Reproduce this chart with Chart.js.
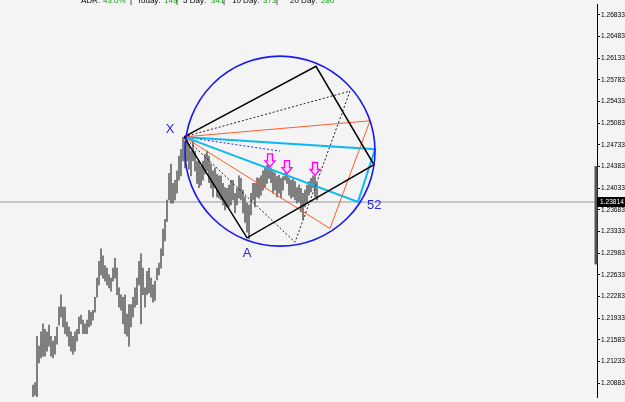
<!DOCTYPE html>
<html>
<head>
<meta charset="utf-8">
<script src="https://cdn.jsdelivr.net/npm/chart.js@4.4.0/dist/chart.umd.min.js"></script>
<style>
  html, body { margin: 0; padding: 0; background: #f4f4f4; }
  #wrap { width: 625px; height: 402px; }
</style>
</head>
<body>
<div id="wrap"><canvas id="chart" width="625" height="402"></canvas></div>
<script>
// price bars, one per period (high / low)
const highs = [
  1.2085, 1.2089, 1.2164, 1.2148, 1.2171, 1.2184, 1.2175, 1.2171, 1.2182, 1.2164,
  1.2156, 1.2164, 1.2179, 1.2211, 1.2231, 1.2211, 1.2211, 1.2187, 1.2179, 1.2171,
  1.2164, 1.2171, 1.2175, 1.2195, 1.2198, 1.2190, 1.2184, 1.2190, 1.2206, 1.2203,
  1.2206, 1.2227, 1.2258, 1.2285, 1.2305, 1.2294, 1.2278, 1.2274, 1.2263, 1.2258,
  1.2274, 1.2290, 1.2274, 1.2242, 1.2231, 1.2227, 1.2231, 1.2200, 1.2215, 1.2215,
  1.2227, 1.2242, 1.2258, 1.2285, 1.2297, 1.2274, 1.2242, 1.2269, 1.2274, 1.2258,
  1.2247, 1.2253, 1.2274, 1.2282, 1.2305, 1.2337, 1.2353, 1.2384, 1.2427, 1.2442,
  1.2411, 1.2416, 1.2431, 1.2455, 1.2466, 1.2485, 1.2479, 1.2479, 1.2474, 1.2463,
  1.2479, 1.2463, 1.2447, 1.2447, 1.2439, 1.2447, 1.2458, 1.2463, 1.2455, 1.2442,
  1.2431, 1.2436, 1.2426, 1.2423, 1.2423, 1.2411, 1.2404, 1.2403, 1.2408, 1.2416,
  1.2416, 1.2395, 1.2403, 1.2423, 1.2419, 1.2400, 1.2389, 1.2379, 1.2376, 1.2395,
  1.2411, 1.2411, 1.2420, 1.2419, 1.2423, 1.2431, 1.2436, 1.2440, 1.2439, 1.2436,
  1.2430, 1.2428, 1.2422, 1.2424, 1.2419, 1.2422, 1.2428, 1.2426, 1.2420, 1.2416,
  1.2418, 1.2414, 1.2404, 1.2408, 1.2403, 1.2395, 1.2400, 1.2408, 1.2414, 1.2419,
  1.2423, 1.2422, 1.2411
];
const lows = [
  1.2061, 1.2069, 1.2066, 1.2121, 1.2129, 1.2132, 1.2132, 1.2140, 1.2148, 1.2132,
  1.2129, 1.2135, 1.2151, 1.2182, 1.2195, 1.2179, 1.2168, 1.2164, 1.2148, 1.2140,
  1.2135, 1.2140, 1.2156, 1.2168, 1.2184, 1.2168, 1.2168, 1.2168, 1.2179, 1.2182,
  1.2190, 1.2203, 1.2227, 1.2247, 1.2263, 1.2258, 1.2253, 1.2247, 1.2242, 1.2237,
  1.2253, 1.2258, 1.2231, 1.2211, 1.2206, 1.2184, 1.2168, 1.2164, 1.2148, 1.2179,
  1.2195, 1.2211, 1.2215, 1.2247, 1.2184, 1.2231, 1.2211, 1.2231, 1.2234, 1.2227,
  1.2219, 1.2222, 1.2255, 1.2263, 1.2274, 1.2294, 1.2318, 1.2349, 1.2384, 1.2379,
  1.2379, 1.2384, 1.2395, 1.2416, 1.2423, 1.2447, 1.2436, 1.2447, 1.2434, 1.2423,
  1.2447, 1.2431, 1.2411, 1.2404, 1.2408, 1.2416, 1.2426, 1.2431, 1.2412, 1.2403,
  1.2389, 1.2404, 1.2389, 1.2387, 1.2384, 1.2376, 1.2368, 1.2373, 1.2373, 1.2376,
  1.2384, 1.2363, 1.2376, 1.2387, 1.2384, 1.2363, 1.2348, 1.2332, 1.2321, 1.2360,
  1.2384, 1.2373, 1.2389, 1.2387, 1.2392, 1.2400, 1.2404, 1.2411, 1.2419, 1.2412,
  1.2395, 1.2400, 1.2389, 1.2395, 1.2387, 1.2400, 1.2416, 1.2411, 1.2392, 1.2387,
  1.2389, 1.2384, 1.2379, 1.2381, 1.2365, 1.2353, 1.2373, 1.2379, 1.2392, 1.2397,
  1.2404, 1.2389, 1.2384
];

const tickValues = [1.26833, 1.26483, 1.26133, 1.25783, 1.25433, 1.25083, 1.24733, 1.24383,
  1.24033, 1.23683, 1.23333, 1.22983, 1.22633, 1.22283, 1.21933, 1.21583, 1.21233, 1.20883];
const currentPrice = 1.23814;

// drawing objects (bar index, price)
const quadX = [75.5, 141.5, 170.5, 107, 75.5];
const quadY = [1.2486, 1.2600, 1.2441, 1.2323, 1.2486];
const dotX = [75.5, 158.5, 131, 75.5];
const dotY = [1.2486, 1.2560, 1.2316, 1.2486];
const orangeX = [75.5, 168.5, 148.5, 75.5];
const orangeY = [1.2486, 1.2512, 1.2338, 1.2486];
const cyanX = [75.5, 171, 162.5, 75.5];
const cyanY = [1.2486, 1.2466, 1.2381, 1.2486];
const circleCenter = [123.5, 1.2463];
const circleRadiusBars = 47.5;
const arrowX = [118.5, 127, 141];
const arrowY = [1.2436, 1.2425, 1.2422];
const adrRange = [1.2439, 1.2280];

const pts = (xs, ys) => xs.map((x, i) => ({ x: x, y: ys[i] }));
const bars = highs.map((h, i) => ({ x: i, y: [lows[i], h] }));

function drawLine(color, width, dash, xs, ys) {
  return {
    type: 'line', data: pts(xs, ys), borderColor: color, borderWidth: width,
    borderDash: dash, pointRadius: 0, fill: false, tension: 0, order: 1
  };
}

const overlay = {
  id: 'overlay',
  beforeDatasetsDraw(chart) {
    const c = chart.ctx, ys = chart.scales.y, a = chart.chartArea;
    const py = Math.round(ys.getPixelForValue(currentPrice));
    c.save();
    c.strokeStyle = '#c4c4ca';
    c.lineWidth = 2;
    c.beginPath(); c.moveTo(a.left, py); c.lineTo(a.right, py); c.stroke();
    c.restore();
  },
  afterDatasetsDraw(chart) {
    const c = chart.ctx, xs = chart.scales.x, ys = chart.scales.y;
    c.save();
    // circle
    const cx = xs.getPixelForValue(circleCenter[0]);
    const cy = ys.getPixelForValue(circleCenter[1]);
    const r = xs.getPixelForValue(circleCenter[0] + circleRadiusBars) - cx;
    c.strokeStyle = '#1818f4';
    c.lineWidth = 1.6;
    c.beginPath(); c.arc(cx, cy, r, 0, Math.PI * 2); c.stroke();

    // arrows
    arrowX.forEach((v, i) => {
      const x = xs.getPixelForValue(v), y = ys.getPixelForValue(arrowY[i]) - 1;
      c.beginPath();
      c.moveTo(x, y);
      c.lineTo(x - 5, y - 6);
      c.lineTo(x - 2.5, y - 6);
      c.lineTo(x - 2.5, y - 13);
      c.lineTo(x + 2.5, y - 13);
      c.lineTo(x + 2.5, y - 6);
      c.lineTo(x + 5, y - 6);
      c.closePath();
      c.fillStyle = '#ffd6ff';
      c.fill();
      c.strokeStyle = '#ff00ff';
      c.lineWidth = 1.3;
      c.stroke();
    });

    // labels
    c.fillStyle = '#2424e8';
    c.font = '13px "Liberation Sans"';
    c.textBaseline = 'middle';
    c.textAlign = 'center';
    c.fillText('X', xs.getPixelForValue(quadX[0]) - 14, ys.getPixelForValue(quadY[0]) - 7);
    c.fillText('A', xs.getPixelForValue(quadX[3]), ys.getPixelForValue(quadY[3]) + 16);
    c.textAlign = 'left';
    c.fillText('52', xs.getPixelForValue(cyanX[2]) + 9, ys.getPixelForValue(cyanY[2]) + 4);
    c.restore();
  },
  afterDraw(chart) {
    const c = chart.ctx, ys = chart.scales.y, a = chart.chartArea;
    c.save();
    // range marker on the axis
    c.strokeStyle = '#555';
    c.lineWidth = 3;
    c.beginPath();
    c.moveTo(a.right - 1, ys.getPixelForValue(adrRange[0]));
    c.lineTo(a.right - 1, ys.getPixelForValue(adrRange[1]));
    c.stroke();
    // current price box
    const py = Math.round(ys.getPixelForValue(currentPrice));
    c.fillStyle = '#000';
    c.fillRect(a.right, py - 5, 28, 10);
    c.fillStyle = '#fff';
    c.font = '6.6px "Liberation Sans"';
    c.textBaseline = 'middle';
    c.textAlign = 'left';
    c.fillText(currentPrice.toFixed(5), a.right + 3, py);
    // header
    const segs = [
      ['ADR:', 81, '#000'], ['43.0%', 103, '#18a018'], ['|', 130, '#000'],
      ['Today:', 137, '#000'], ['149', 164, '#18a018'], ['|', 176, '#000'],
      ['5 Day:', 183, '#000'], ['341', 211, '#18a018'], ['|', 223, '#000'],
      ['10 Day:', 232, '#000'], ['373', 263, '#18a018'], ['|', 276, '#000'],
      ['20 Day:', 290, '#000'], ['280', 321, '#18a018']
    ];
    c.font = '8px "Liberation Sans"';
    c.textBaseline = 'alphabetic';
    segs.forEach(s => { c.fillStyle = s[2]; c.fillText(s[0], s[1], 3); });
    c.restore();
  }
};

new Chart(document.getElementById('chart'), {
  type: 'bar',
  data: {
    datasets: [
      {
        type: 'bar', data: bars, backgroundColor: '#686868', barThickness: 1,
        grouped: false, order: 10
      },
      drawLine('#000', 1.5, [], quadX, quadY),
      drawLine('#222', 1, [2, 2], dotX, dotY),
      drawLine('#ff5a28', 1, [], orangeX, orangeY),
      drawLine('#10b8f0', 2, [], cyanX, cyanY),
      drawLine('#2a2ae0', 1, [2, 2], [quadX[0], circleCenter[0]], [quadY[0], circleCenter[1]])
    ]
  },
  options: {
    responsive: false,
    devicePixelRatio: 1,
    animation: false,
    layout: { padding: 0 },
    plugins: { legend: { display: false }, tooltip: { enabled: false } },
    scales: {
      x: { type: 'linear', min: -16.5, max: 282, display: false, offset: false },
      y: {
        position: 'right', min: 1.20658, max: 1.26991,
        afterBuildTicks: s => { s.ticks = tickValues.map(v => ({ value: v })); },
        afterFit: s => { s.width = 28; },
        grid: { drawOnChartArea: false, drawTicks: true, tickLength: 3, color: '#000' },
        border: { color: '#000', width: 1 },
        ticks: {
          padding: 1, color: '#000', font: { family: 'Liberation Sans', size: 6.6 },
          callback: v => v.toFixed(5)
        }
      }
    }
  },
  plugins: [overlay]
});
</script>
</body>
</html>
